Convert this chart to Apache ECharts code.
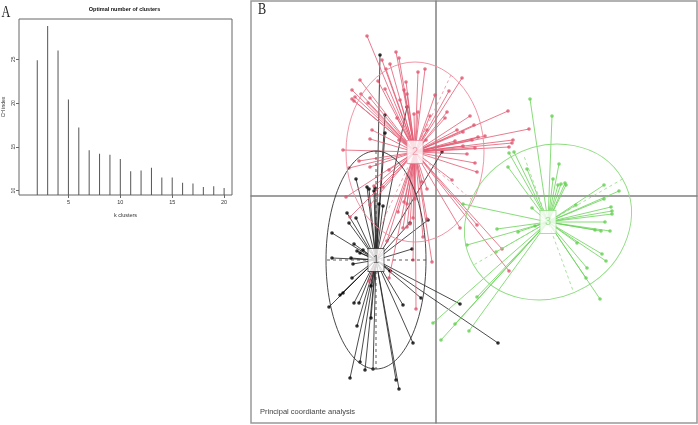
<!DOCTYPE html>
<html><head><meta charset="utf-8">
<script src="https://cdn.jsdelivr.net/npm/echarts@6/dist/echarts.min.js"></script>
<style>html,body{margin:0;padding:0;background:#fff}#c{width:698px;height:425px}</style>
</head><body><div id="c"></div>
<script>
// ---------- Panel A data ----------
const kClusters = [2,3,4,5,6,7,8,9,10,11,12,13,14,15,16,17,18,19,20];
const chIndex   = [24.9,28.8,26.0,20.4,17.2,14.6,14.2,14.1,13.6,12.2,12.3,12.6,11.5,11.5,10.9,10.8,10.4,10.5,10.3];
const xTicksA = [5,10,15,20];
const yTicksA = [10,15,20,25];

// ---------- Panel B data (principal coordinates) ----------
const cluster1 = [[-0.56,1.41],[-0.51,0.81],[-0.51,0.63],[-0.29,0.89],[0.06,0.44],[-0.80,0.17],[-0.69,0.09],[-0.67,0.07],[-0.62,0.05],[-0.61,0.08],
[-0.53,-0.10],[-0.57,-0.08],[-0.89,-0.17],[-0.87,-0.27],[-0.80,-0.22],[-0.08,-0.24],[-1.04,-0.37],[-0.82,-0.48],[-0.73,-0.54],[-0.76,-0.57],
[-0.79,-0.55],[-1.04,-0.62],[-0.85,-0.62],[-0.83,-0.68],[-0.24,-0.53],[-0.46,-0.75],[-0.84,-0.82],[-0.96,-0.99],[-0.93,-0.97],[-1.07,-1.11],
[-0.82,-1.07],[-0.77,-1.07],[-0.79,-1.30],[-0.65,-1.22],[-0.65,-0.90],[-0.33,-1.09],[-0.15,-1.02],[-0.23,-1.47],[0.24,-1.08],[0.62,-1.47],
[-0.76,-1.66],[-0.71,-1.74],[-0.63,-1.73],[-0.86,-1.82],[-0.40,-1.84],[-0.37,-1.93],[-0.26,-0.27]];
const cluster2 = [[-0.69,1.60],[-0.40,1.44],[-0.37,1.38],[-0.54,1.36],[-0.46,1.32],[-0.50,1.27],[-0.18,1.24],[-0.11,1.27],[0.26,1.18],[-0.76,1.16],
[-0.58,1.15],[-0.30,1.14],[-0.32,1.06],[-0.51,1.07],[-0.84,1.06],[-0.75,1.02],[-0.81,0.99],[-0.84,0.97],[-0.82,0.95],[-0.66,0.98],
[-0.36,0.96],[-0.29,1.02],[-0.01,1.01],[0.13,1.05],[-0.68,0.93],[-0.18,0.84],[-0.22,0.82],[0.11,0.84],[-0.06,0.80],[0.34,0.80],
[0.09,0.78],[-0.39,0.78],[-0.64,0.66],[-0.09,0.66],[0.38,0.71],[0.21,0.66],[0.27,0.64],[-0.66,0.57],[-0.37,0.56],[-0.10,0.56],
[0.42,0.59],[0.36,0.56],[0.19,0.55],[-0.93,0.46],[0.27,0.50],[0.39,0.48],[0.72,0.85],[0.93,0.67],[0.49,0.60],[0.77,0.56],
[0.76,0.53],[0.73,0.49],[0.31,0.42],[0.39,0.33],[0.41,0.24],[-0.77,0.35],[-0.66,0.29],[-0.87,0.28],[-0.47,0.26],[0.16,0.16],
[-0.09,0.07],[-0.90,-0.01],[-0.21,-0.03],[-0.32,-0.06],[-0.29,-0.08],[-0.53,0.09],[-0.62,0.10],[-0.66,-0.09],[-0.38,-0.16],[-0.86,-0.21],
[-0.23,-0.22],[-0.09,-0.23],[0.24,-0.32],[-0.33,-0.32],[-0.29,-0.31],[-0.26,-0.28],[-0.04,-0.66],[-0.23,-0.64],[-0.20,-1.13],[-0.47,-0.82],
[-0.67,-0.85],[0.41,-0.29],[0.66,-0.53],[0.73,-0.75],[-0.13,-0.41],[-0.49,-0.45],[-0.14,0.14]];
const cluster3 = [[0.94,0.97],[1.16,0.80],[0.73,0.43],[0.78,0.44],[0.72,0.29],[0.91,0.27],[1.23,0.32],[1.17,0.17],[1.22,0.11],[1.25,0.12],
[1.29,0.13],[1.30,0.11],[1.68,0.11],[1.83,0.05],[1.40,-0.09],[1.68,-0.03],[1.75,-0.11],[1.76,-0.15],[1.76,-0.18],[0.96,-0.12],
[0.27,-0.08],[1.69,-0.26],[1.59,-0.34],[1.65,-0.35],[1.74,-0.35],[0.99,-0.30],[0.61,-0.33],[0.82,-0.36],[1.41,-0.47],[0.31,-0.49],
[0.60,-0.56],[1.66,-0.58],[1.70,-0.65],[1.51,-0.72],[1.50,-0.82],[1.64,-1.03],[0.41,-1.01],[-0.03,-1.27],[0.19,-1.28],[0.05,-1.44],[0.33,-1.35]];
const centroids = [[-0.60,-0.64],[-0.21,0.44],[1.12,-0.26]];
const centroidLabels = ['1','2','3'];
// ellipse: centre x, centre y, semi-axis 1, semi-axis 2, rotation (deg)
const ellipses = [[-0.60,-0.64,0.50,1.09,0],[-0.21,0.44,0.69,0.90,0],[1.12,-0.26,0.86,0.75,30]];
// ellipse axes: [angle deg, half length]
const ellipseAxes = [[[0,0.50],[90,1.09]],[[65,0.85],[-40,0.75]],[[30,0.86],[-70,0.72]]];

const pointColors = ['#000000','#DF536B','#61D04F'];
const lineColors  = ['#222222','#E35D74','#6CD45A'];
const ellColors   = ['#333333','#EE8A9C','#8EDC80'];
const clusters = [cluster1, cluster2, cluster3];

const chart = echarts.init(document.getElementById('c'), null, {renderer:'canvas'});
const FONT = 'Liberation Sans Narrow, Liberation Sans, Arial, sans-serif';

const series = [];
// Panel A
series.push({
  type:'bar', xAxisIndex:0, yAxisIndex:0, barWidth:1,
  itemStyle:{color:'#555'},
  data: kClusters.map((k,i)=>[k, chIndex[i]]),
  silent:true
});
// Panel B spokes + points
clusters.forEach((pts, ci) => {
  const c = centroids[ci];
  series.push({
    type:'custom', xAxisIndex:1, yAxisIndex:1, clip:true, silent:true,
    data: pts.map(p => [p[0], p[1], c[0], c[1]]),
    encode:{x:0, y:1},
    renderItem: (params, api) => {
      const p = api.coord([api.value(0), api.value(1)]);
      const q = api.coord([api.value(2), api.value(3)]);
      return {type:'line', shape:{x1:q[0],y1:q[1],x2:p[0],y2:p[1]},
        style:{stroke:lineColors[ci], lineWidth:0.9, opacity:0.9}};
    },
    z: 2 + ci
  });
  series.push({
    type:'scatter', xAxisIndex:1, yAxisIndex:1, silent:true,
    symbol:'circle', symbolSize:3.6,
    itemStyle:{color:pointColors[ci]},
    data: pts, z: 2 + ci
  });
});
// Ellipses
series.push({
  type:'custom', xAxisIndex:1, yAxisIndex:1, clip:true, silent:true,
  data: ellipses, encode:{x:0, y:1}, z:6,
  renderItem: (params, api) => {
    const i = params.dataIndex;
    const cx = api.value(0), cy = api.value(1);
    const c = api.coord([cx, cy]);
    const s = api.size([api.value(2), api.value(3)]);
    const children = [{
      type:'ellipse', shape:{cx:c[0], cy:c[1], rx:s[0], ry:s[1]},
      rotation: api.value(4)*Math.PI/180, originX:c[0], originY:c[1],
      style:{fill:'none', stroke:ellColors[i], lineWidth:0.9}
    }];
    ellipseAxes[i].forEach(ax => {
      const t = ax[0]*Math.PI/180, h = ax[1];
      const a = api.coord([cx + h*Math.cos(t), cy + h*Math.sin(t)]);
      const b = api.coord([cx - h*Math.cos(t), cy - h*Math.sin(t)]);
      children.push({type:'line', shape:{x1:a[0],y1:a[1],x2:b[0],y2:b[1]},
        style:{stroke:ellColors[i], lineWidth:0.8, lineDash:[3,3]}});
    });
    return {type:'group', children};
  }
});
// Centroid boxes
series.push({
  type:'scatter', xAxisIndex:1, yAxisIndex:1, silent:true, z:10,
  symbol:'rect', symbolSize:[16,23],
  data: centroids.map((c,i)=>({
    value:c, name:centroidLabels[i],
    itemStyle:{color:'#fff', borderColor:ellColors[i], borderWidth:1},
    label:{show:true, position:'inside', formatter:'{b}', color:ellColors[i],
      fontSize:11, fontFamily:FONT}
  }))
});

const option = {
  animation:false,
  backgroundColor:'#fff',
  grid:[
    {left:17, top:19, width:215, height:176, show:true, borderColor:'#666', borderWidth:1, backgroundColor:'transparent'},
    {left:251, top:1, width:446, height:422, show:true, borderColor:'#999', borderWidth:1.5, backgroundColor:'transparent'}
  ],
  xAxis:[
    {type:'value', gridIndex:0, min:0.24, max:20.76,
     name:'k clusters', nameLocation:'middle', nameGap:17,
     nameTextStyle:{fontSize:5.5, color:'#333', fontFamily:FONT},
     axisLine:{show:false}, splitLine:{show:false},
     axisTick:{show:true, length:3, lineStyle:{color:'#666'}, customValues:xTicksA},
     axisLabel:{fontSize:5.5, color:'#333', margin:4, fontFamily:FONT, customValues:xTicksA}},
    {type:'value', gridIndex:1, min:-1.85, max:2.61,
     axisLine:{show:true, onZero:true, lineStyle:{color:'#808080', width:1.5}},
     axisTick:{show:false}, axisLabel:{show:false}, splitLine:{show:false}}
  ],
  yAxis:[
    {type:'value', gridIndex:0, min:9.5, max:29.6,
     name:'CH index', nameLocation:'middle', nameGap:13,
     nameTextStyle:{fontSize:5, color:'#333', fontFamily:FONT},
     axisLine:{show:false}, splitLine:{show:false},
     axisTick:{show:true, length:3, lineStyle:{color:'#666'}, customValues:yTicksA},
     axisLabel:{fontSize:5, color:'#333', margin:3, rotate:90, fontFamily:FONT, customValues:yTicksA}},
    {type:'value', gridIndex:1, min:-2.27, max:1.95,
     axisLine:{show:true, onZero:true, lineStyle:{color:'#808080', width:1.5}},
     axisTick:{show:false}, axisLabel:{show:false}, splitLine:{show:false}}
  ],
  graphic:[
    {type:'text', x:1.5, y:4, scaleX:0.72, style:{text:'A', font:'normal 17px "Liberation Serif", serif', fill:'#222'}},
    {type:'text', x:258, y:1.5, scaleX:0.72, style:{text:'B', font:'normal 17px "Liberation Serif", serif', fill:'#222'}},
    {type:'text', x:124.5, y:9.3, style:{text:'Optimal number of clusters', font:'bold 5.5px ' + FONT, fill:'#111', align:'center', verticalAlign:'middle'}},
    {type:'text', x:260, y:411.7, style:{text:'Principal coordiante analysis', font:'normal 7.5px ' + FONT, fill:'#444', verticalAlign:'middle'}}
  ],
  series
};
chart.setOption(option);
</script></body></html>
